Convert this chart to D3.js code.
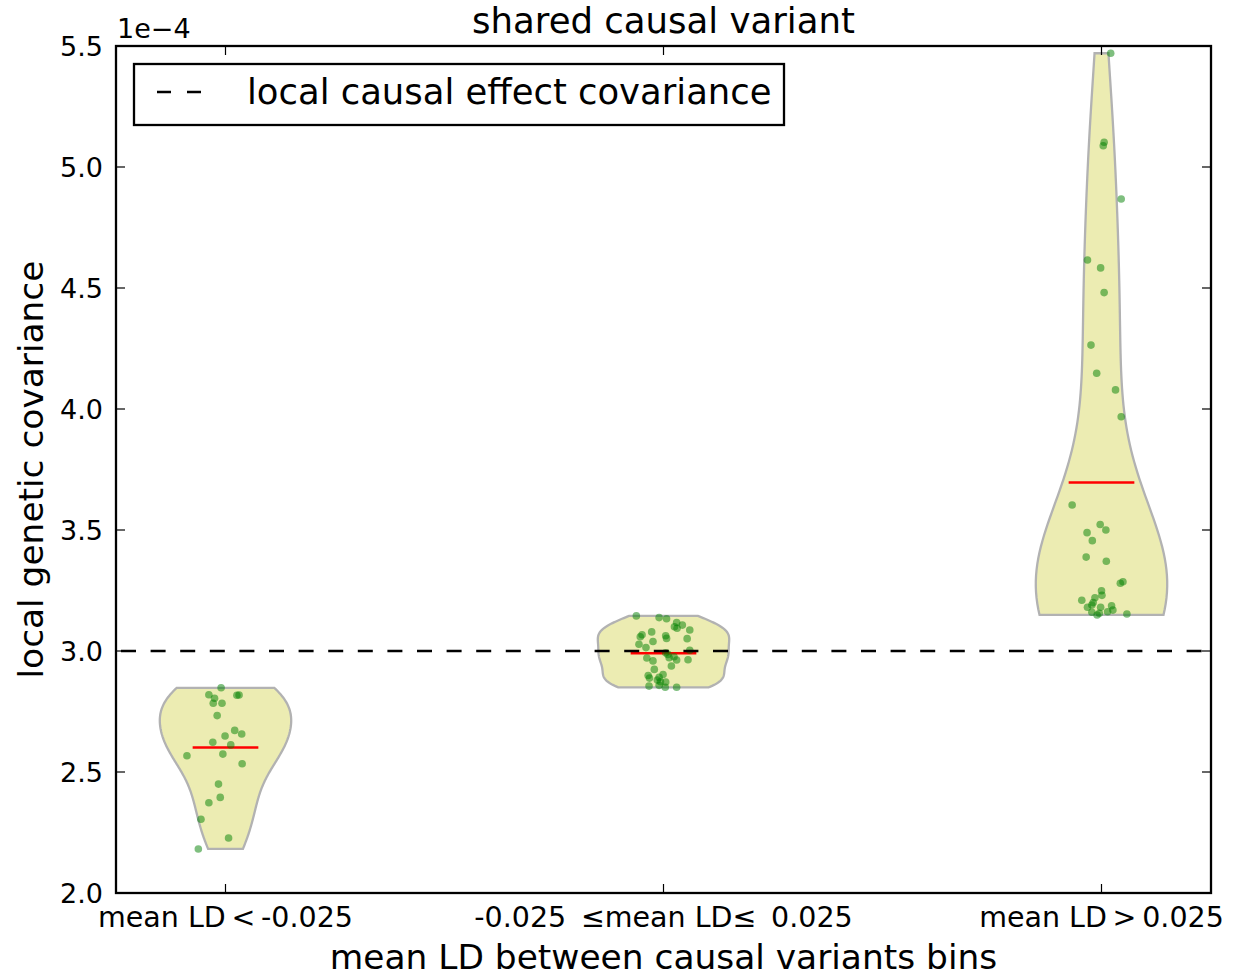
<!DOCTYPE html>
<html>
<head>
<meta charset="utf-8">
<script src="https://cdn.jsdelivr.net/npm/d3@7"></script>
<style>
  html, body { margin: 0; padding: 0; background: #ffffff; }
  svg { display: block; font-family: "DejaVu Sans", sans-serif; }
</style>
</head>
<body>
<svg id="chart" width="1236" height="976"></svg>
<script>
// Bins of mean LD between causal variants
const categories = [
  "mean LD\u2009<\u2009-0.025",
  "-0.025 \u2009\u2264mean LD\u2264 \u20090.025",
  "mean LD\u2009>\u20090.025"
];
const positions = [1, 2, 3];

// Local genetic covariance estimates (units of 1e-4), one list per bin
const ldLowValues = [2.848, 2.819, 2.817, 2.818, 2.805, 2.784, 2.784, 2.733, 2.672, 2.657, 2.649,
  2.623, 2.612, 2.574, 2.567, 2.534, 2.450, 2.395, 2.373, 2.305, 2.227, 2.182];
const ldMidValues = [3.145, 3.138, 3.133, 3.118, 3.100, 3.094, 3.107, 3.087, 3.067, 3.079, 3.059,
  3.063, 3.052, 3.039, 3.028, 3.051, 3.014, 2.993, 2.986, 3.003, 2.971, 2.972, 2.976, 2.963,
  2.964, 2.959, 2.938, 2.924, 2.899, 2.888, 2.891, 2.903, 2.880, 2.873, 2.872, 2.855, 2.850,
  2.850, 2.858];
const ldHighValues = [5.470, 5.102, 5.088, 4.868, 4.616, 4.583, 4.481, 4.264, 4.148, 4.079, 3.968,
  3.603, 3.523, 3.489, 3.500, 3.456, 3.388, 3.371, 3.286, 3.280, 3.249, 3.230, 3.220, 3.210,
  3.200, 3.190, 3.181, 3.181, 3.187, 3.169, 3.160, 3.156, 3.149, 3.162, 3.153];

// Horizontal scatter offsets of each estimate from its bin position
const ldLowJitter = [-0.010, -0.038, 0.026, 0.031, -0.025, -0.028, -0.008, -0.019, 0.021, 0.037, -0.001,
  -0.029, 0.012, -0.006, -0.088, 0.038, -0.016, -0.012, -0.038, -0.056, 0.007, -0.062];
const ldMidJitter = [-0.062, -0.010, 0.007, 0.030, 0.025, 0.031, 0.043, 0.060, -0.049, -0.027, -0.053,
  0.005, 0.007, -0.024, -0.056, 0.054, -0.040, 0.005, 0.010, 0.060, -0.038, 0.013, 0.024, 0.030,
  0.056, -0.024, 0.018, -0.021, -0.035, -0.032, -0.010, -0.001, -0.014, -0.007, 0.005, -0.033,
  0.004, 0.030, -0.010];
const ldHighJitter = [0.021, 0.006, 0.004, 0.045, -0.032, -0.002, 0.006, -0.024, -0.011, 0.032, 0.045,
  -0.067, -0.003, -0.033, 0.010, -0.021, -0.035, 0.011, 0.049, 0.043, 0.000, 0.001, -0.015, -0.045,
  -0.019, -0.022, -0.032, -0.002, 0.023, 0.026, -0.022, -0.005, -0.010, 0.014, 0.058];

// True local causal effect covariance
const trueCovariance = [3.0];

const yTicks = [2.0, 2.5, 3.0, 3.5, 4.0, 4.5, 5.0, 5.5];

const groups = [
  { pos: positions[0], values: ldLowValues, jitter: ldLowJitter },
  { pos: positions[1], values: ldMidValues, jitter: ldMidJitter },
  { pos: positions[2], values: ldHighValues, jitter: ldHighJitter }
];

const svg = d3.select("#chart");
const plotLeft = 116, plotRight = 1211, plotTop = 46, plotBottom = 893;
const violinWidth = 0.3;

const x = d3.scaleLinear().domain([0.75, 3.25]).range([plotLeft, plotRight]);
const y = d3.scaleLinear().domain([2.0, 5.5]).range([plotBottom, plotTop]);

// Gaussian KDE with Scott's bandwidth, evaluated on 100 points from min to max
function violinProfile(values) {
  const n = values.length;
  const sd = d3.deviation(values);
  const bw = Math.pow(n, -1 / 5) * sd;
  const lo = d3.min(values), hi = d3.max(values);
  const pts = d3.range(100).map(i => lo + (hi - lo) * i / 99);
  const dens = pts.map(p => d3.sum(values, v => Math.exp(-0.5 * ((p - v) / bw) ** 2)));
  const maxD = d3.max(dens);
  return pts.map((p, i) => ({ v: p, w: 0.5 * violinWidth * dens[i] / maxD }));
}

const plot = svg.append("g");

// Violin bodies
groups.forEach(g => {
  const prof = violinProfile(g.values);
  const area = d3.area()
    .y(d => y(d.v))
    .x0(d => x(g.pos - d.w))
    .x1(d => x(g.pos + d.w));
  plot.append("path")
    .attr("d", area(prof))
    .attr("fill", "#bfbf00")
    .attr("fill-opacity", 0.3)
    .attr("stroke", "#b2b2b2")
    .attr("stroke-width", 2.3);
});

// Mean markers
groups.forEach(g => {
  const m = d3.mean(g.values);
  plot.append("line")
    .attr("x1", x(g.pos - 0.25 * violinWidth))
    .attr("x2", x(g.pos + 0.25 * violinWidth))
    .attr("y1", y(m)).attr("y2", y(m))
    .attr("stroke", "#ff0000")
    .attr("stroke-width", 2.5);
});

// Individual estimates
groups.forEach(g => {
  plot.append("g").selectAll("circle")
    .data(g.values.map((v, i) => ({ v, j: g.jitter[i] })))
    .join("circle")
    .attr("cx", d => x(g.pos + d.j))
    .attr("cy", d => y(d.v))
    .attr("r", 3.8)
    .attr("fill", "#008000")
    .attr("fill-opacity", 0.5);
});

// Reference line at the true covariance
plot.append("line")
  .attr("x1", plotLeft).attr("x2", plotRight)
  .attr("y1", y(trueCovariance[0])).attr("y2", y(trueCovariance[0]))
  .attr("stroke", "#000")
  .attr("stroke-width", 2.3)
  .attr("stroke-dasharray", "15,14.6")
  .attr("stroke-dashoffset", -5);

// Axes frame
svg.append("rect")
  .attr("x", plotLeft).attr("y", plotTop)
  .attr("width", plotRight - plotLeft).attr("height", plotBottom - plotTop)
  .attr("fill", "none").attr("stroke", "#000").attr("stroke-width", 2.3);

// Inward ticks, classic style, on all four sides
const tickLen = 9;
const ticks = svg.append("g").attr("stroke", "#000").attr("stroke-width", 1.2);
yTicks.forEach(t => {
  ticks.append("line").attr("x1", plotLeft).attr("x2", plotLeft + tickLen).attr("y1", y(t)).attr("y2", y(t));
  ticks.append("line").attr("x1", plotRight).attr("x2", plotRight - tickLen).attr("y1", y(t)).attr("y2", y(t));
});
positions.forEach(p => {
  ticks.append("line").attr("x1", x(p)).attr("x2", x(p)).attr("y1", plotBottom).attr("y2", plotBottom - tickLen);
  ticks.append("line").attr("x1", x(p)).attr("x2", x(p)).attr("y1", plotTop).attr("y2", plotTop + tickLen);
});

// Y tick labels
svg.append("g").selectAll("text")
  .data(yTicks)
  .join("text")
  .attr("x", plotLeft - 13)
  .attr("y", d => y(d))
  .attr("dy", "0.36em")
  .attr("text-anchor", "end")
  .attr("font-size", 27)
  .text(d3.format(".1f"));

// X tick labels
svg.append("g").selectAll("text")
  .data(categories)
  .join("text")
  .attr("x", (d, i) => x(positions[i]))
  .attr("y", 927)
  .attr("text-anchor", "middle")
  .attr("font-size", 28.5)
  .text(d => d);

// Scale offset label
svg.append("text")
  .attr("x", plotLeft + 1).attr("y", 38)
  .attr("font-size", 27)
  .text("1e\u22124");

// Axis titles
svg.append("text")
  .attr("x", (plotLeft + plotRight) / 2).attr("y", 969)
  .attr("text-anchor", "middle")
  .attr("font-size", 34.4)
  .text("mean LD between causal variants bins");

svg.append("text")
  .attr("transform", `translate(43,${(plotTop + plotBottom) / 2}) rotate(-90)`)
  .attr("text-anchor", "middle")
  .attr("font-size", 34.4)
  .text("local genetic covariance");

svg.append("text")
  .attr("x", (plotLeft + plotRight) / 2).attr("y", 33)
  .attr("text-anchor", "middle")
  .attr("font-size", 35.5)
  .text("shared causal variant");

// Legend
const legend = svg.append("g");
legend.append("rect")
  .attr("x", 134).attr("y", 64).attr("width", 650).attr("height", 61)
  .attr("fill", "#fff").attr("stroke", "#000").attr("stroke-width", 2.3);
legend.append("line")
  .attr("x1", 157).attr("x2", 205).attr("y1", 92).attr("y2", 92)
  .attr("stroke", "#000").attr("stroke-width", 2.3)
  .attr("stroke-dasharray", "14,16");
legend.append("text")
  .attr("x", 247).attr("y", 104)
  .attr("font-size", 35.4)
  .text("local causal effect covariance");
</script>
</body>
</html>
